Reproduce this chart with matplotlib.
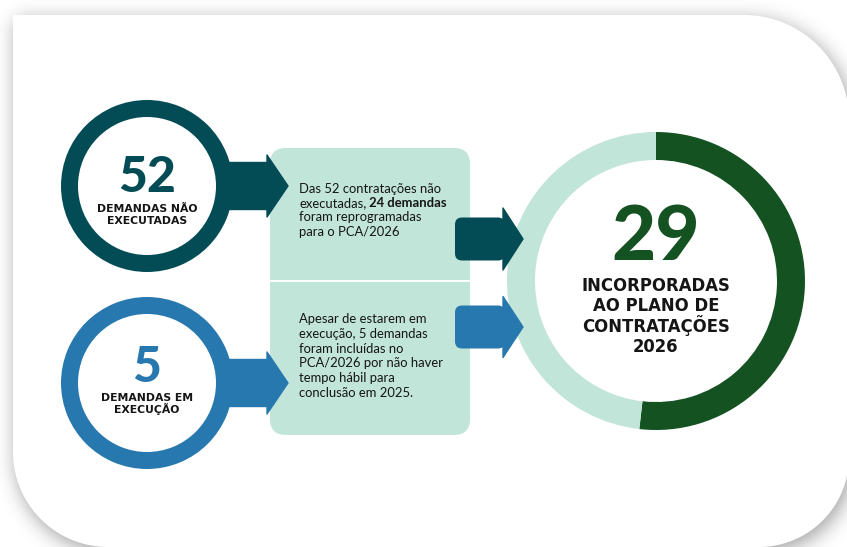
import numpy as np
import matplotlib
matplotlib.use("Agg")
import matplotlib.pyplot as plt
from matplotlib.patches import Wedge, Polygon, FancyBboxPatch, PathPatch
from matplotlib.path import Path

# ---------------- data ----------------
source_values = [52, 5]
source_labels = ["DEMANDAS NÃO\nEXECUTADAS", "DEMANDAS EM\nEXECUÇÃO"]
source_colors = ["#034C56", "#2878B0"]

note1_lines = ["Das 52 contratações não", ("executadas,", " 24 demandas"),
               "foram reprogramadas", "para o PCA/2026"]
note2_lines = ["Apesar de estarem em", "execução, 5 demandas",
               "foram incluídas no", "PCA/2026 por não haver",
               "tempo hábil para", "conclusão em 2025."]

result_value = 29
donut_values = [29, 27]
donut_colors = ["#145222", "#C2E5D9"]
result_label = ["INCORPORADAS", "AO PLANO DE", "CONTRATAÇÕES", "2026"]

BOX_COLOR = "#C2E5D9"
TEXT_COLOR = "#151515"
NUM_FONT = "Lato"
LABEL_FONT = "DejaVu Sans"
BODY_FONT = "Lato"

# ---------------- figure ----------------
W, H = 847, 547
fig = plt.figure(figsize=(W / 100, H / 100), dpi=100)
fig.patch.set_facecolor("white")
ax = fig.add_axes([0, 0, 1, 1])
ax.set_xlim(0, W)
ax.set_ylim(H, 0)
ax.axis("off")


def rounded_path(x0, y0, x1, y1, rtl, rtr, rbr, rbl, n=48):
    def arc(cx, cy, r, a0, a1):
        t = np.radians(np.linspace(a0, a1, n))
        return np.column_stack([cx + r * np.cos(t), cy + r * np.sin(t)])
    v = np.vstack([arc(x0 + rtl, y0 + rtl, rtl, 180, 270),
                   arc(x1 - rtr, y0 + rtr, rtr, 270, 360),
                   arc(x1 - rbr, y1 - rbr, rbr, 0, 90),
                   arc(x0 + rbl, y1 - rbl, rbl, 90, 180)])
    return Path(np.vstack([v, v[:1]]), closed=True)


card = dict(x0=13, y0=15, x1=849, y1=547, rtl=1, rtr=105, rbr=90, rbl=95)
card_path = rounded_path(**card)

# soft shadow
pad = 90
yy, xx = np.mgrid[-pad:H + pad, -pad:W + pad] + 0.5
sh_path = rounded_path(card["x0"] + 3, card["y0"] + 5, card["x1"] + 3, card["y1"] + 5,
                       card["rtl"], card["rtr"], card["rbr"], card["rbl"])
mask = sh_path.contains_points(np.column_stack([xx.ravel(), yy.ravel()])).reshape(xx.shape).astype(float)
ky = np.fft.fftfreq(mask.shape[0])
kx = np.fft.fftfreq(mask.shape[1])
sig = 10.0
g = np.exp(-2 * (np.pi * sig) ** 2 * (ky[:, None] ** 2 + kx[None, :] ** 2))
blur = np.real(np.fft.ifft2(np.fft.fft2(mask) * g))[pad:pad + H, pad:pad + W]
rgba = np.zeros((H, W, 4))
rgba[..., 3] = np.clip(blur, 0, 1) * 0.38
ax.imshow(rgba, extent=(0, W, H, 0), zorder=0, interpolation="bilinear")
ax.add_patch(PathPatch(card_path, facecolor="white", edgecolor="none", zorder=1))
ax.set_xlim(0, W)
ax.set_ylim(H, 0)

# ---------------- middle box ----------------
box_x, box_y, box_w, box_h = 270, 148, 200, 287
ax.add_patch(FancyBboxPatch((box_x, box_y), box_w, box_h,
                            boxstyle="round,pad=0,rounding_size=16",
                            facecolor=BOX_COLOR, edgecolor="none", zorder=2))
ax.plot([box_x, box_x + box_w], [281, 281], color="white", lw=1.4, zorder=3)


def arrow(target, x_start, x_head, x_tip, yc, shaft_h, head_h, color, rounded=False, z=4):
    if rounded:
        target.add_patch(FancyBboxPatch((x_start, yc - shaft_h / 2), x_head - x_start + 2, shaft_h,
                                        boxstyle="round,pad=0,rounding_size=7",
                                        facecolor=color, edgecolor="none", zorder=z))
        pts = [(x_head, yc - head_h / 2), (x_tip, yc), (x_head, yc + head_h / 2)]
    else:
        pts = [(x_start, yc - shaft_h / 2), (x_head, yc - shaft_h / 2), (x_head, yc - head_h / 2),
               (x_tip, yc), (x_head, yc + head_h / 2), (x_head, yc + shaft_h / 2),
               (x_start, yc + shaft_h / 2)]
    target.add_patch(Polygon(pts, closed=True, facecolor=color, edgecolor=color,
                             lw=1.0, joinstyle="round", zorder=z))


# ---------------- source circles ----------------
circ_x = 147
circ_y = [186, 383]
R, ring_w = 86, 17
num_base = [192, 382]
lab_base = [[212, 224], [401, 413]]
for i, (val, lab, col) in enumerate(zip(source_values, source_labels, source_colors)):
    arrow(ax, 220, 267, 288, circ_y[i], 47, 62, col, z=4)
    ax.add_patch(Wedge((circ_x, circ_y[i]), R, 0, 360, width=ring_w,
                       facecolor=col, edgecolor="none", zorder=5))
    ax.text(circ_x, num_base[i], str(val), ha="center", va="baseline",
            fontsize=36, fontweight="black", family=NUM_FONT, color=col, zorder=6)
    for j, line in enumerate(lab.split("\n")):
        ax.text(circ_x, lab_base[i][j], line, ha="center", va="baseline",
                fontsize=7.8, fontweight="bold", family=LABEL_FONT, color=TEXT_COLOR, zorder=6)

# ---------------- notes ----------------
tx = 299
fs_note = 9.4
for k, line in enumerate(note1_lines):
    yb = 195 + k * 14.2
    if isinstance(line, tuple):
        t = ax.text(tx, yb, line[0], ha="left", va="bottom", fontsize=fs_note,
                    family=BODY_FONT, color=TEXT_COLOR, zorder=6)
        ax.annotate(line[1], xy=(1, 0), xycoords=t, ha="left", va="bottom",
                    fontsize=fs_note, family=BODY_FONT, fontweight="bold",
                    color=TEXT_COLOR, zorder=6)
    else:
        ax.text(tx, yb, line, ha="left", va="bottom", fontsize=fs_note,
                family=BODY_FONT, color=TEXT_COLOR, zorder=6)
for k, line in enumerate(note2_lines):
    yb = 325 + k * 14.8
    ax.text(tx, yb, line, ha="left", va="bottom", fontsize=fs_note,
            family=BODY_FONT, color=TEXT_COLOR, zorder=6)

# ---------------- donut ----------------
dcx, dcy, dR, dw = 656, 281, 149, 28
dax = fig.add_axes([(dcx - dR) / W, (H - dcy - dR) / H, 2 * dR / W, 2 * dR / H])
dax.pie(donut_values, colors=donut_colors, startangle=90, counterclock=False,
        radius=1, wedgeprops=dict(width=dw / dR, edgecolor="none"))
dax.set_xlim(-1, 1)
dax.set_ylim(-1, 1)
dax.set_aspect("equal")
dax.axis("off")
dax.set_zorder(2)

# overlay for arrows and centre text on top of donut
oax = fig.add_axes([0, 0, 1, 1])
oax.set_xlim(0, W)
oax.set_ylim(H, 0)
oax.axis("off")
oax.set_zorder(3)
arrow(oax, 455, 503, 523, 239, 43, 62, source_colors[0], rounded=True)
arrow(oax, 455, 503, 523, 327, 43, 61, source_colors[1], rounded=True)
oax.text(dcx, 260, str(result_value), ha="center", va="baseline", fontsize=55,
         fontweight="black", family=NUM_FONT, color=donut_colors[0], zorder=6)
for j, line in enumerate(result_label):
    oax.text(dcx, 291 + j * 20.3, line, ha="center", va="baseline", fontsize=11.9,
             fontweight="bold", family=LABEL_FONT, color=TEXT_COLOR, zorder=6)

fig.savefig("out.png", dpi=100, facecolor="white")
